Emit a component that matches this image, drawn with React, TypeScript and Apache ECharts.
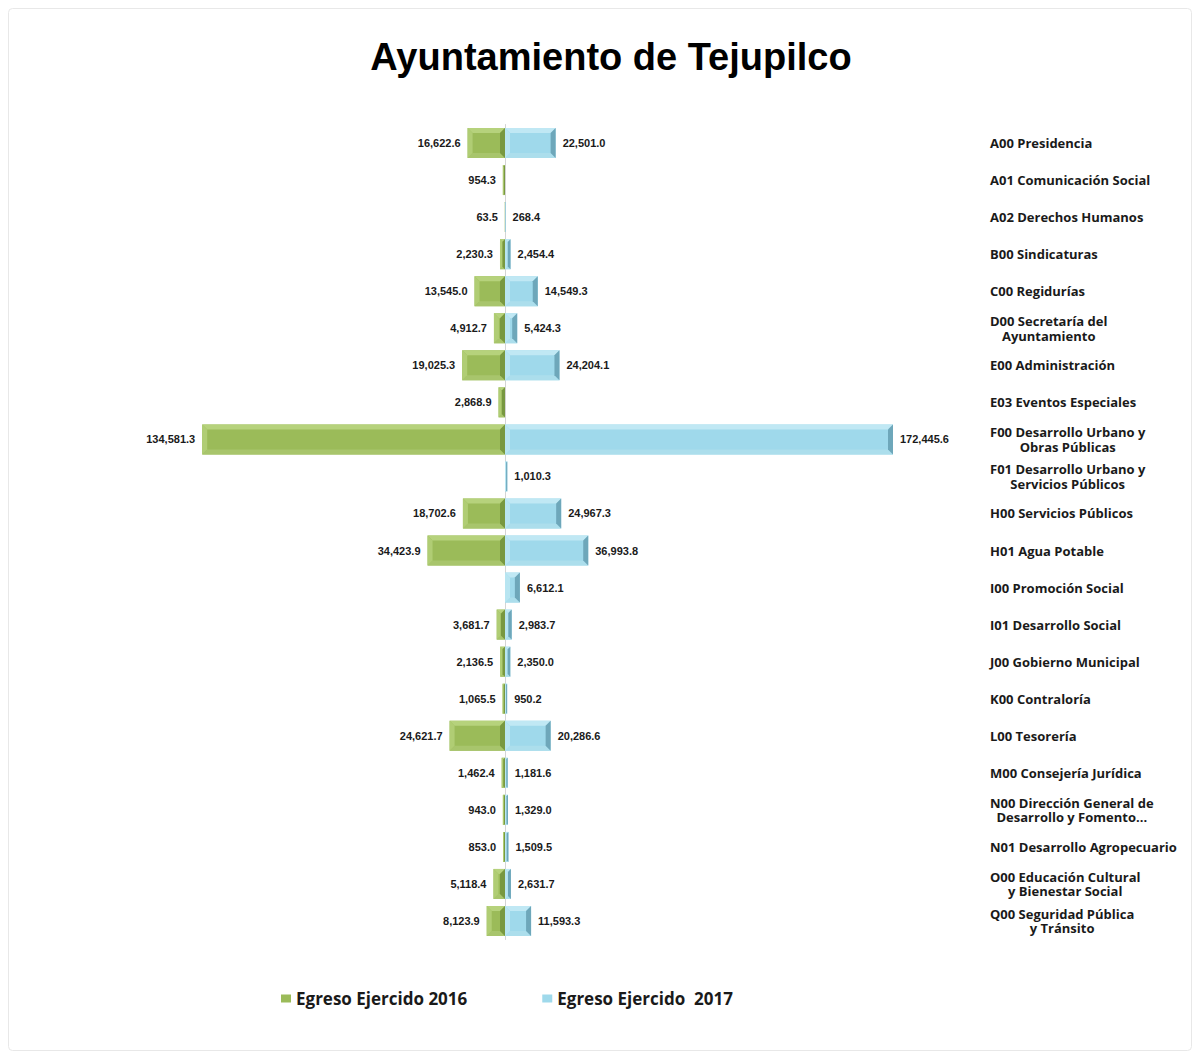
import React, { useEffect, useRef } from 'react';
import * as echarts from 'echarts';

const chartTitle = 'Ayuntamiento de Tejupilco';
const seriesNames = ['Egreso Ejercido 2016', 'Egreso Ejercido  2017'];
const categories = [
  'A00 Presidencia',
  'A01 Comunicación Social',
  'A02 Derechos Humanos',
  'B00 Sindicaturas',
  'C00 Regidurías',
  'D00 Secretaría del\nAyuntamiento',
  'E00 Administración',
  'E03 Eventos Especiales',
  'F00 Desarrollo Urbano y\nObras Públicas',
  'F01 Desarrollo Urbano y\nServicios Públicos',
  'H00 Servicios Públicos',
  'H01 Agua Potable',
  'I00 Promoción Social',
  'I01 Desarrollo Social',
  'J00 Gobierno Municipal',
  'K00 Contraloría',
  'L00 Tesorería',
  'M00 Consejería Jurídica',
  'N00 Dirección General de\nDesarrollo y Fomento...',
  'N01 Desarrollo Agropecuario',
  'O00 Educación Cultural\ny Bienestar Social',
  'Q00 Seguridad Pública\ny Tránsito',
];
const egreso2016: (number | null)[] = [
  16622.6, 954.3, 63.5, 2230.3, 13545.0, 4912.7, 19025.3, 2868.9, 134581.3, null, 18702.6,
  34423.9, null, 3681.7, 2136.5, 1065.5, 24621.7, 1462.4, 943.0, 853.0, 5118.4, 8123.9,
];
const egreso2017: (number | null)[] = [
  22501.0, null, 268.4, 2454.4, 14549.3, 5424.3, 24204.1, null, 172445.6, 1010.3, 24967.3,
  36993.8, 6612.1, 2983.7, 2350.0, 950.2, 20286.6, 1181.6, 1329.0, 1509.5, 2631.7, 11593.3,
];

const GREEN = { face: '#9BBB59', top: '#B6D27C', bottom: '#A8C56C', left: '#B0CD74', right: '#789840' };
const BLUE = { face: '#9FD9EB', top: '#C0E8F4', bottom: '#ACDEEC', left: '#B8E5F1', right: '#6EA7BA' };

const LABEL_FONT = '"Open Sans", sans-serif';
const VALUE_FONT = '"Liberation Sans", Arial, sans-serif';

const fmt = (v: number) =>
  v.toLocaleString('en-US', { minimumFractionDigits: 1, maximumFractionDigits: 1 });

function makeRender(colors: typeof GREEN, sign: number) {
  return (params: any, api: any) => {
    const v = api.value(0);
    const cat = api.value(1);
    const p0 = api.coord([0, cat]);
    const p1 = api.coord([v, cat]);
    const band = api.size([0, 1])[1];
    const h = band * 0.81;
    const l = Math.min(p0[0], p1[0]);
    const r = Math.max(p0[0], p1[0]);
    const w = r - l;
    const t = p0[1] - h / 2;
    const btm = p0[1] + h / 2;
    const b = Math.min(5, w / 2, h / 2);
    const children: any[] = [
      { type: 'rect', shape: { x: l, y: t, width: w, height: h }, style: { fill: colors.face } },
      {
        type: 'polygon',
        shape: { points: [[l, t], [r, t], [r - b, t + b], [l + b, t + b]] },
        style: { fill: colors.top },
      },
      {
        type: 'polygon',
        shape: { points: [[l, btm], [r, btm], [r - b, btm - b], [l + b, btm - b]] },
        style: { fill: colors.bottom },
      },
      {
        type: 'polygon',
        shape: { points: [[l, t], [l + b, t + b], [l + b, btm - b], [l, btm]] },
        style: { fill: colors.left },
      },
      {
        type: 'polygon',
        shape: { points: [[r, t], [r - b, t + b], [r - b, btm - b], [r, btm]] },
        style: { fill: colors.right },
      },
      {
        type: 'text',
        style: {
          text: fmt(Math.abs(v)),
          x: sign < 0 ? l - 7 : r + 7,
          y: p0[1],
          align: sign < 0 ? 'right' : 'left',
          verticalAlign: 'middle',
          fontFamily: VALUE_FONT,
          fontWeight: 'bold',
          fontSize: 11,
          fill: '#1a1a1a',
        },
      },
    ];
    return { type: 'group', children };
  };
}

function buildData(values: (number | null)[], sign: number) {
  const out: number[][] = [];
  values.forEach((v, i) => {
    if (v !== null) out.push([sign * v, i]);
  });
  return out;
}

export default function App() {
  const ref = useRef<HTMLDivElement>(null);
  useEffect(() => {
    document.body.style.margin = '0';
    const chart = echarts.init(ref.current!, null, { renderer: 'svg' });
    const labelStyle = {
      fontFamily: LABEL_FONT,
      fontWeight: 'bold' as const,
      fontSize: 13,
      color: '#1a1a1a',
      lineHeight: 14.5,
    };
    chart.setOption({
      animation: false,
      backgroundColor: '#ffffff',
      title: {
        text: chartTitle,
        left: 606,
        textAlign: 'center',
        top: 33,
        textStyle: {
          fontFamily: VALUE_FONT,
          fontWeight: 'bold',
          fontSize: 38,
          color: '#000',
        },
      },
      graphic: [
        {
          type: 'rect',
          shape: { x: 8.5, y: 8.5, width: 1183, height: 1042, r: 4 },
          style: { fill: 'none', stroke: '#e8e8e8', lineWidth: 1 },
          silent: true,
          z: -1,
        },
      ],
      legend: {
        left: 276,
        top: 985,
        itemGap: 75,
        itemWidth: 10,
        itemHeight: 8,
        icon: 'rect',
        data: seriesNames,
        textStyle: {
          fontFamily: LABEL_FONT,
          fontWeight: 'bold',
          fontSize: 17,
          color: '#1a1a1a',
        },
      },
      grid: { left: 55, right: 245, top: 124.5, height: 815 },
      xAxis: {
        type: 'value',
        min: -200000,
        max: 200000,
        show: false,
      },
      yAxis: [
        {
          type: 'category',
          inverse: true,
          data: categories,
          position: 'right',
          axisLine: { show: false, onZero: false },
          axisTick: { show: false },
          splitLine: { show: false },
          axisLabel: {
            margin: 35,
            align: 'left',
            formatter: (value: string) => {
              const parts = value.split('\n');
              return parts.length > 1 ? `{a|${parts[0]}}\n{c|${parts[1]}}` : `{a|${parts[0]}}`;
            },
            rich: {
              a: { ...labelStyle, align: 'left' },
              c: { ...labelStyle, align: 'center' },
            },
          },
        },
        {
          type: 'category',
          inverse: true,
          data: categories,
          position: 'left',
          axisLine: { show: true, onZero: true, lineStyle: { color: '#d4d4d4', width: 1 } },
          axisTick: { show: false },
          axisLabel: { show: false },
          splitLine: { show: false },
        },
      ],
      series: [
        {
          name: seriesNames[0],
          type: 'custom',
          itemStyle: { color: GREEN.face },
          encode: { x: 0, y: 1 },
          renderItem: makeRender(GREEN, -1),
          data: buildData(egreso2016, -1),
          z: 3,
        },
        {
          name: seriesNames[1],
          type: 'custom',
          itemStyle: { color: BLUE.face },
          encode: { x: 0, y: 1 },
          renderItem: makeRender(BLUE, 1),
          data: buildData(egreso2017, 1),
          z: 3,
        },
      ],
    });
    return () => chart.dispose();
  }, []);
  return <div ref={ref} style={{ width: 1200, height: 1059 }} />;
}
